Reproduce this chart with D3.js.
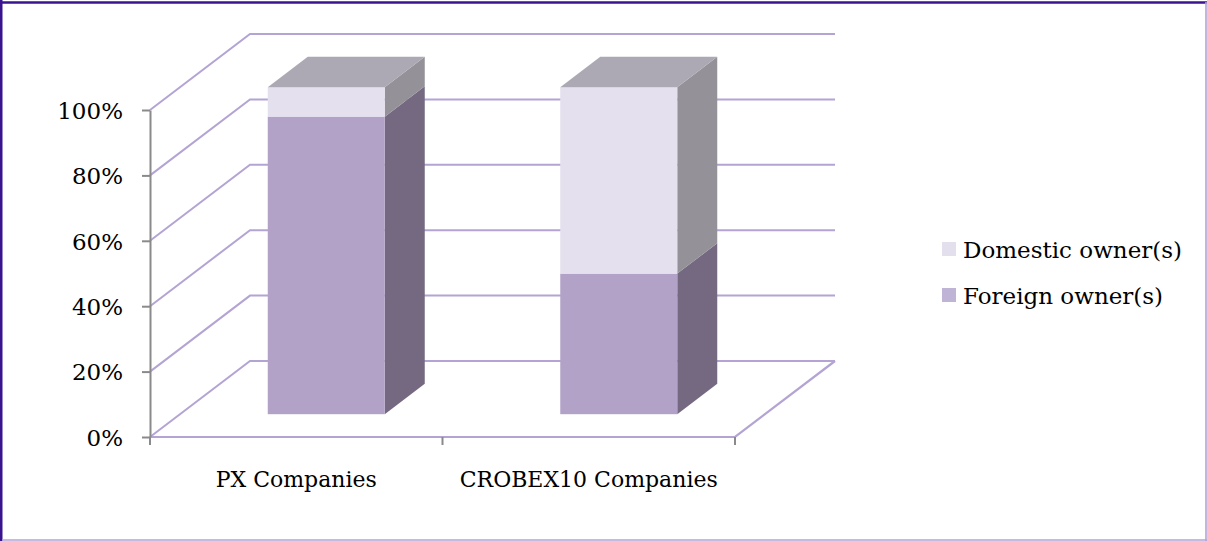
<!DOCTYPE html>
<html>
<head>
<meta charset="utf-8">
<script src="https://cdn.jsdelivr.net/npm/d3@7"></script>
<style>
  html, body { margin: 0; padding: 0; background: #ffffff; }
  svg { display: block; }
  text { font-family: "DejaVu Serif", "Liberation Serif", serif; fill: #000; }
</style>
</head>
<body>
<svg id="chart" width="1207" height="541"></svg>
<script>
// Ownership structure of listed companies (share of companies)
const categories = ["PX Companies", "CROBEX10 Companies"];
const foreignOwners = [0.91, 0.43];
const domesticOwners = [0.09, 0.57];
const seriesNames = ["Domestic owner(s)", "Foreign owner(s)"];
const yTickValues = [0, 0.2, 0.4, 0.6, 0.8, 1.0];

const W = 1207, H = 541;
const svg = d3.select("#chart");

// Chart frame
svg.append("line").attr("x1", 0).attr("x2", W).attr("y1", 2.5).attr("y2", 2.5)
  .attr("stroke", "#3a148f").attr("stroke-width", 2.4);
svg.append("line").attr("x1", 1.2).attr("x2", 1.2).attr("y1", 0).attr("y2", H)
  .attr("stroke", "#3a148f").attr("stroke-width", 2.6);
svg.append("line").attr("x1", W - 1).attr("x2", W - 1).attr("y1", 2).attr("y2", H)
  .attr("stroke", "#b3a3d8").attr("stroke-width", 1.6);
svg.append("line").attr("x1", 2).attr("x2", W).attr("y1", H - 1).attr("y2", H - 1)
  .attr("stroke", "#b3a3d8").attr("stroke-width", 1.6);

// Scales: front plane and depth projection
const y = d3.scaleLinear().domain([0, 1]).range([437, 110]);
const x = d3.scaleBand().domain(categories).range([150, 735]).paddingInner(0).paddingOuter(0);
const depthX = d3.scaleLinear().domain([0, 1]).range([0, 100]);
const depthY = d3.scaleLinear().domain([0, 1]).range([0, -76]);

const gridColor = "#b4a4d4";
const axisColor = "#8a8a8a";
const x0 = x.range()[0], x1 = x.range()[1];

// Back wall and side wall gridlines
const grid = svg.append("g").attr("fill", "none").attr("stroke", gridColor).attr("stroke-width", 2);
yTickValues.forEach(v => {
  grid.append("path").attr("d", d3.line()([
    [x0, y(v)],
    [x0 + depthX(1), y(v) + depthY(1)],
    [x1 + depthX(1), y(v) + depthY(1)]
  ]));
});
// Floor front and right edges
grid.append("path").attr("d", d3.line()([
  [x0, y(0)], [x1, y(0)], [x1 + depthX(1), y(0) + depthY(1)]
])).attr("stroke-width", 2.2);

// Stacked 3D columns
const barFrac = 0.4;
const dFront = 0.3, dBack = 0.7;
const series = [
  { name: "Foreign owner(s)", values: foreignOwners, front: "#b2a2c8", side: "#756881", top: "#aca9b4" },
  { name: "Domestic owner(s)", values: domesticOwners, front: "#e5e0ee", side: "#949198", top: "#aca9b4" }
];

const bars = svg.append("g");
categories.forEach((cat, i) => {
  const cx = x(cat) + x.bandwidth() / 2;
  const bw = x.bandwidth() * barFrac;
  const fx = cx - bw / 2 + depthX(dFront);
  const fdy = depthY(dFront);
  const ddx = depthX(dBack) - depthX(dFront);
  const ddy = depthY(dBack) - depthY(dFront);
  let base = 0;
  series.forEach((s, si) => {
    const v0 = base, v1 = base + s.values[i];
    base = v1;
    const yb = y(v0) + fdy, yt = y(v1) + fdy;
    // right side face
    bars.append("path")
      .attr("d", d3.line()([
        [fx + bw, yb], [fx + bw + ddx, yb + ddy], [fx + bw + ddx, yt + ddy], [fx + bw, yt]
      ]) + "Z")
      .attr("fill", s.side);
    // front face
    bars.append("rect")
      .attr("x", fx).attr("y", yt).attr("width", bw).attr("height", yb - yt)
      .attr("fill", s.front);
    // top face on the uppermost segment
    if (si === series.length - 1) {
      bars.append("path")
        .attr("d", d3.line()([
          [fx, yt], [fx + bw, yt], [fx + bw + ddx, yt + ddy], [fx + ddx, yt + ddy]
        ]) + "Z")
        .attr("fill", s.top);
    }
  });
});

// Value axis
const yAxis = svg.append("g")
  .attr("transform", `translate(${x0},0)`)
  .call(d3.axisLeft(y).tickValues(yTickValues).tickFormat(d3.format(".0%"))
    .tickSizeInner(8).tickSizeOuter(0).tickPadding(19));
yAxis.select(".domain").attr("stroke", axisColor).attr("stroke-width", 2);
yAxis.selectAll(".tick line").attr("stroke", axisColor).attr("stroke-width", 2);
yAxis.selectAll(".tick text")
  .attr("font-family", '"DejaVu Serif", "Liberation Serif", serif')
  .attr("font-size", 23).attr("fill", "#000").attr("dy", "0.36em");

// Category axis: ticks at band boundaries, labels at band centres
const catTicks = categories.map(c => x(c)).concat([x1]);
svg.append("g").selectAll("line").data(catTicks).join("line")
  .attr("x1", d => d).attr("x2", d => d)
  .attr("y1", y(0)).attr("y2", y(0) + 8)
  .attr("stroke", axisColor).attr("stroke-width", 2);
svg.append("g").selectAll("text").data(categories).join("text")
  .attr("x", d => x(d) + x.bandwidth() / 2)
  .attr("y", 487)
  .attr("text-anchor", "middle")
  .attr("font-size", 22)
  .text(d => d);

// Legend
const legendColors = { "Domestic owner(s)": "#e4dfec", "Foreign owner(s)": "#c0b4d6" };
const legend = svg.append("g").attr("transform", "translate(942,242)");
seriesNames.forEach((name, i) => {
  const g = legend.append("g").attr("transform", `translate(0,${i * 46})`);
  g.append("rect").attr("width", 14).attr("height", 14).attr("fill", legendColors[name]);
  g.append("text").attr("x", 21).attr("y", 16).attr("font-size", 23).text(name);
});
</script>
</body>
</html>
